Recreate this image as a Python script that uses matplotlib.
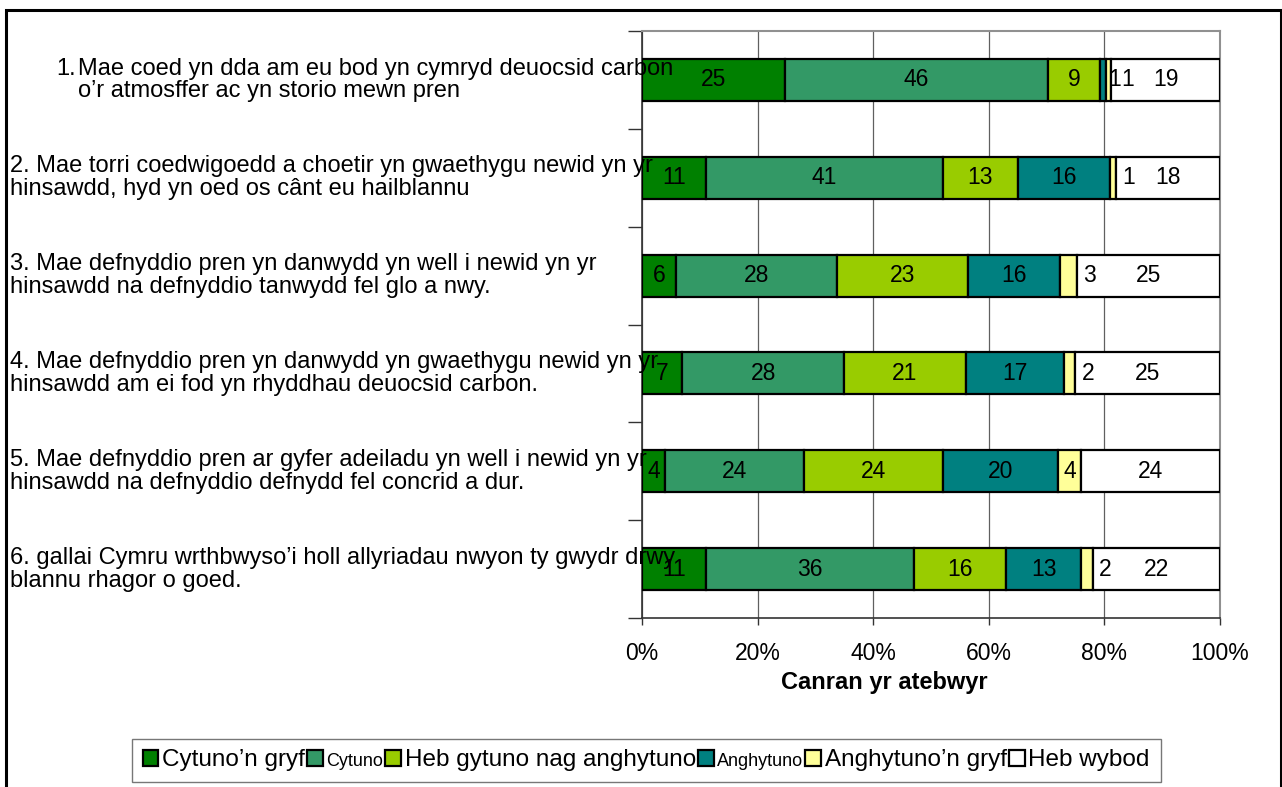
import matplotlib
matplotlib.use('Agg')
import matplotlib.pyplot as plt
from matplotlib.patches import Patch, Rectangle
import numpy as np

plt.rcParams['font.family'] = ['Liberation Sans', 'DejaVu Sans']

# data
statements = [
    "Mae coed yn dda am eu bod yn cymryd deuocsid carbon\no\u2019r atmosffer ac yn storio mewn pren",
    "2. Mae torri coedwigoedd a choetir yn gwaethygu newid yn yr\nhinsawdd, hyd yn oed os c\u00e2nt eu hailblannu",
    "3. Mae defnyddio pren yn danwydd yn well i newid yn yr\nhinsawdd na defnyddio tanwydd fel glo a nwy.",
    "4. Mae defnyddio pren yn danwydd yn gwaethygu newid yn yr\nhinsawdd am ei fod yn rhyddhau deuocsid carbon.",
    "5. Mae defnyddio pren ar gyfer adeiladu yn well i newid yn yr\nhinsawdd na defnyddio defnydd fel concrid a dur.",
    "6. gallai Cymru wrthbwyso\u2019i holl allyriadau nwyon ty gwydr drwy\nblannu rhagor o goed.",
]
series_names = ["Cytuno\u2019n gryf", "Cytuno", "Heb gytuno nag anghytuno",
                "Anghytuno", "Anghytuno\u2019n gryf", "Heb wybod"]
cytuno_gryf = [25, 11, 6, 7, 4, 11]
cytuno = [46, 41, 28, 28, 24, 36]
heb_gytuno = [9, 13, 23, 21, 24, 16]
anghytuno = [1, 16, 16, 17, 20, 13]
anghytuno_gryf = [1, 1, 3, 2, 4, 2]
heb_wybod = [19, 18, 25, 25, 24, 22]
colors = ['#008000', '#339966', '#99CC00', '#008080', '#FFFF99', '#FFFFFF']

values = np.array([cytuno_gryf, cytuno, heb_gytuno, anghytuno, anghytuno_gryf, heb_wybod], dtype=float)
pct = values / values.sum(axis=0) * 100

FS = 16.5
fig = plt.figure(figsize=(12.82, 7.87), dpi=100)
ax = fig.add_axes([0.5008, 0.2147, 0.4508, 0.7459])

y = np.arange(len(statements))
left = np.zeros(len(statements))
for i in range(len(series_names)):
    ax.barh(y, pct[i], left=left, height=0.43, color=colors[i],
            edgecolor='black', linewidth=1.6, zorder=3)
    for j in range(len(statements)):
        v = int(values[i, j])
        end = left[j] + pct[i, j]
        if v <= 3 and i in (3, 4):
            # small segments: label just to the right
            off = 3 if i == 3 else 6
            if i == 4 and values[3, j] <= 3:
                off = 10
            ax.annotate(str(v), (end, y[j]), xytext=(off, 0), textcoords='offset pixels',
                        ha='left', va='center', fontsize=FS, zorder=5)
        else:
            ax.text(left[j] + pct[i, j] / 2, y[j], str(v), ha='center', va='center',
                    fontsize=FS, zorder=5)
    left += pct[i]

ax.set_xlim(0, 100)
ax.set_ylim(len(statements) - 0.5, -0.5)
ax.set_xticks(np.arange(0, 101, 20))
ax.set_xticklabels([f"{t}%" for t in range(0, 101, 20)], fontsize=FS)
ax.set_yticks(np.arange(-0.5, len(statements), 1))
ax.set_yticklabels([])
ax.tick_params(axis='y', length=10, width=1, direction='out', color='#333333')
ax.tick_params(axis='x', length=5, width=1, direction='out', pad=12, color='#333333')
ax.xaxis.grid(True, color='#606060', linewidth=0.9, zorder=0)
ax.set_axisbelow(True)
for s in ['top', 'right']:
    ax.spines[s].set_color('#909090')
    ax.spines[s].set_linewidth(1.5)
for s in ['left', 'bottom']:
    ax.spines[s].set_color('#333333')
    ax.spines[s].set_linewidth(1.2)
ax.set_xlabel("Canran yr atebwyr", fontsize=17, fontweight='bold')
ax.xaxis.set_label_coords(0.419, -0.09)

# statement labels on the left
trans = matplotlib.transforms.blended_transform_factory(fig.transFigure, ax.transData)
LS = 1.05
ax.text(56 / 1282, 0, "1.\n ", transform=trans, ha='left', va='center', fontsize=17,
        zorder=6, clip_on=False, linespacing=LS)
ax.text(78 / 1282, 0, statements[0], transform=trans, ha='left', va='center', fontsize=17,
        zorder=6, clip_on=False, linespacing=LS)
for j in range(1, len(statements)):
    ax.text(10 / 1282, y[j], statements[j], transform=trans, ha='left', va='center',
            fontsize=17, zorder=6, clip_on=False, linespacing=LS)

handles = [Patch(facecolor=c, edgecolor='black', linewidth=1.6) for c in colors]
leg = fig.legend(handles, series_names, loc='center', bbox_to_anchor=(0.504, 0.0337),
                 ncol=6, fontsize=17.5, frameon=True, fancybox=False, handlelength=0.65,
                 handleheight=0.65, handletextpad=0.15, columnspacing=0.08, borderpad=0.45,
                 borderaxespad=0)
leg.get_frame().set_edgecolor('#555555')
leg.get_frame().set_linewidth(1)
leg.get_texts()[1].set_fontsize(13)
leg.get_texts()[3].set_fontsize(13)

# outer border
fig.patches.append(Rectangle((6 / 1282, -0.01), 1275 / 1282, 1.01 - 10 / 787,
                             transform=fig.transFigure, fill=False, edgecolor='black',
                             linewidth=2.2))

fig.savefig('out.png', dpi=100)
